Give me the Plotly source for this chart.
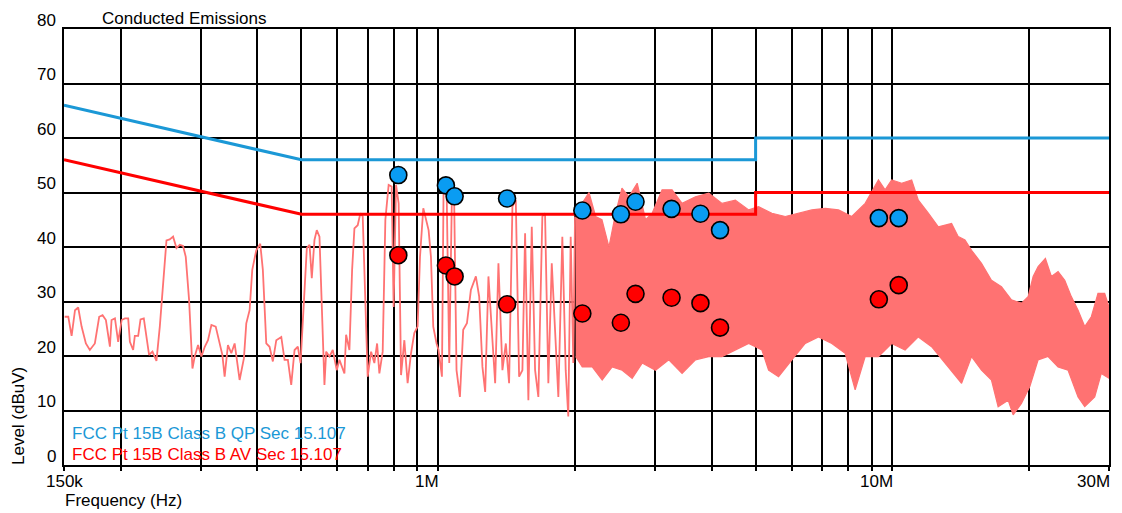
import numpy as np
import plotly.graph_objects as go

# ---------------- data ----------------
# Low-frequency part of the measured spectrum (kHz, dBuV)
scan_lo_khz = [150.5, 153.3, 155.9, 158.6, 161.2, 164.0, 167.6, 171.0, 175.4, 179.3, 182.4, 185.5,
               189.3, 190.9, 194.2, 197.4, 200.9, 204.3, 207.7, 209.5, 213.0, 214.8, 218.5, 221.1,
               224.8, 227.9, 230.9, 234.9, 239.7, 243.8, 247.9, 252.2, 256.4, 260.8, 265.3, 269.8,
               274.3, 278.1, 282.8, 287.7, 291.0, 296.0, 301.1, 306.2, 311.3, 316.7, 323.7, 330.3,
               334.8, 338.7, 344.4, 350.4, 356.3, 365.4, 373.5, 378.0, 384.4, 389.6, 397.6, 405.7,
               411.1, 418.3, 425.3, 432.5, 440.1, 451.4, 458.9, 466.7, 474.7, 482.8, 490.9, 497.7,
               505.3, 513.8, 520.9, 526.9, 534.1, 540.4, 547.8, 561.8, 566.7, 576.2, 586.0, 598.0,
               606.2, 621.7, 627.0, 637.6, 646.4, 654.0, 665.0, 674.1, 682.1, 691.4, 699.5, 711.7,
               723.6, 733.7, 742.2, 754.8, 765.1, 777.9, 789.8, 797.9, 807.7, 818.4, 828.4, 842.4,
               856.5, 871.4, 886.0, 901.0, 912.0, 927.3, 940.0, 952.6, 964.0, 975.4, 991.8, 1001.8,
               1019.3, 1027.5, 1043.3, 1057.8, 1072.3, 1084.7, 1097.5, 1116.6, 1135.3, 1157.0, 1180.3,
               1210.6, 1231.1, 1251.7, 1269.1, 1290.3, 1316.7, 1335.0, 1357.3, 1385.1, 1409.3, 1432.8,
               1457.1, 1482.2, 1507.3, 1532.8, 1553.8, 1579.8, 1607.3, 1634.6, 1661.9, 1695.9, 1719.1,
               1748.2, 1778.7, 1808.4, 1839.1, 1876.7, 1909.0, 1934.2, 1958.0, 1983.9, 2001.3]
scan_lo_db = [27.2, 27.2, 23.7, 28.4, 28.9, 25.4, 22.3, 21.1, 22.3, 27.2, 27.5, 26.6,
              21.7, 26.6, 26.9, 22.6, 26.6, 26.9, 26.9, 22.6, 21.1, 23.7, 23.7, 26.7,
              26.9, 23.5, 20.2, 20.8, 19.1, 25.4, 32.7, 41.2, 41.4, 41.9, 39.8, 40.4,
              40.2, 38.2, 30.3, 17.7, 19.9, 22.0, 19.9, 21.7, 22.9, 25.7, 25.4, 22.3,
              20.2, 16.2, 22.0, 20.5, 22.3, 15.6, 19.6, 26.0, 28.4, 35.8, 39.4, 40.6,
              35.8, 22.3, 21.7, 19.0, 22.9, 23.5, 19.3, 19.3, 14.7, 21.1, 21.7, 18.7,
              28.4, 39.8, 40.4, 34.3, 41.3, 43.1, 41.9, 14.7, 20.8, 19.9, 21.1, 17.4,
              19.3, 16.8, 23.9, 21.1, 35.8, 43.4, 44.0, 46.2, 45.6, 28.4, 16.2, 20.8,
              18.7, 22.3, 16.8, 20.8, 45.0, 51.4, 51.1, 29.0, 51.4, 48.0, 16.5, 22.9,
              15.0, 20.5, 24.2, 25.4, 38.2, 47.1, 45.0, 43.1, 38.2, 25.4, 22.3, 21.1,
              16.2, 49.9, 51.7, 18.7, 49.9, 48.0, 17.4, 12.5, 24.8, 26.0, 32.1,
              34.6, 30.9, 18.0, 13.4, 34.6, 22.9, 15.0, 37.0, 17.4, 22.3, 15.0,
              47.4, 48.6, 16.2, 17.4, 42.5, 11.9, 43.7, 17.4, 12.5, 45.6, 46.2,
              15.0, 37.0, 26.0, 12.5, 41.9, 17.4, 8.9, 41.9, 18.7, 45.6]

# Dense part of the spectrum (2 MHz - 30 MHz): upper and lower envelopes (kHz, dBuV)
band_up_khz = [2008, 2073, 2148, 2222, 2294, 2377, 2459, 2539, 2630, 2743, 2862, 2959, 3112,
               3274, 3444, 3686, 3943, 4217, 4512, 4828, 5077, 5430, 5812, 6219, 6650, 7117,
               7612, 8141, 8714, 9321, 9641, 9968, 10486, 11030, 11410, 12003, 12627, 13505,
               13970, 14454, 14945, 15716, 16532, 17391, 18295, 19245, 19909, 20420, 20943,
               21730, 22400, 23174, 23970, 24784, 25645, 26527, 27428, 28371, 29347, 30000]
band_up_db = [45.0, 48.0, 50.0, 45.6, 45.0, 40.0, 46.2, 50.8, 49.2, 51.7, 45.0, 46.2, 50.5,
              50.5, 48.0, 49.2, 49.9, 48.0, 48.6, 46.8, 47.4, 46.2, 45.6, 46.2, 46.8, 47.1,
              46.8, 45.6, 48.0, 52.3, 50.5, 52.3, 51.7, 52.3, 48.6, 46.2, 43.7, 44.3,
              41.9, 41.3, 39.4, 37.0, 33.9, 32.7, 30.3, 29.7, 30.9, 34.6, 36.4,
              37.9, 34.6, 35.5, 33.9, 30.9, 28.4, 25.4, 27.2, 31.5, 31.5, 29.0]
band_lo_khz = [2008, 2076, 2184, 2297, 2416, 2542, 2674, 2813, 3010, 3220, 3444, 3686, 3943,
               4217, 4512, 4828, 5162, 5340, 5617, 6010, 6431, 6878, 7358, 7873, 8283, 8714,
               9321, 9968, 10669, 11410, 12204, 13062, 14207, 14945, 15716, 16532, 17101,
               17990, 18452, 19245, 20079, 20943, 22029, 23174, 24378, 25645, 26527, 27904,
               28852, 30000]
band_lo_db = [19.9, 18.0, 18.0, 15.6, 18.0, 17.4, 15.9, 18.7, 17.4, 19.3, 16.8, 19.3, 19.9,
              19.9, 21.1, 22.3, 21.1, 17.4, 16.2, 19.3, 22.3, 23.5, 22.3, 20.5, 13.8, 19.9,
              19.9, 22.3, 21.1, 23.5, 21.7, 18.7, 15.0, 19.9, 17.4, 15.6, 10.7,
              11.9, 9.2, 11.3, 14.4, 19.3, 19.9, 18.0, 17.4, 12.5, 10.7, 12.5,
              16.8, 15.9]

# Limit lines (kHz, dBuV)
qp_limit_khz = [150, 500, 5000, 5000, 30000]
qp_limit_db = [66, 56, 56, 60, 60]
av_limit_khz = [150, 500, 5000, 5000, 30000]
av_limit_db = [56, 46, 46, 50, 50]

# Final measurement points (kHz, dBuV)
peak_khz = [817, 1040, 1087, 1418, 2077, 2525, 2720, 3265, 3780, 4175, 9340, 10330]
qp_db = [53.2, 51.3, 49.3, 48.9, 46.7, 46.0, 48.3, 47.0, 46.1, 43.1, 45.3, 45.3]
av_peak_khz = [817, 1040, 1087, 1418, 2077, 2525, 2720, 3265, 3780, 4175, 9340, 10330]
av_db = [38.5, 36.6, 34.6, 29.5, 27.8, 26.1, 31.4, 30.7, 29.7, 25.2, 30.4, 33.0]

y_ticks = [0, 10, 20, 30, 40, 50, 60, 70, 80]
x_grid_hz = [150e3, 200e3, 300e3, 400e3, 500e3, 600e3, 700e3, 800e3, 900e3,
             1e6, 2e6, 3e6, 4e6, 5e6, 6e6, 7e6, 8e6, 9e6, 10e6, 20e6, 30e6]
x_labels = [(150e3, "150k"), (1e6, "1M"), (10e6, "10M"), (30e6, "30M")]

# ---------------- styling ----------------
FONT = "Liberation Sans, Arial, sans-serif"
TRACE_C = "#ff7272"
QP_C = "#1b98d6"
AV_C = "#ff0000"
MK_BLUE = "#0a9cf2"
MK_RED = "#ff0000"

k = 1000.0
fig = go.Figure()

# dense band as filled polygon
band_x = np.concatenate([np.array(band_up_khz), np.array(band_lo_khz)[::-1]]) * k
band_y = np.concatenate([np.array(band_up_db), np.array(band_lo_db)[::-1]])
fig.add_trace(go.Scatter(x=band_x, y=band_y, mode="lines", fill="toself",
                         fillcolor=TRACE_C, line=dict(color=TRACE_C, width=1.2),
                         hoverinfo="skip", showlegend=False))
# low-frequency scan line
fig.add_trace(go.Scatter(x=np.array(scan_lo_khz) * k, y=scan_lo_db, mode="lines",
                         line=dict(color=TRACE_C, width=1.8), showlegend=False))
# limits
fig.add_trace(go.Scatter(x=np.array(qp_limit_khz) * k, y=qp_limit_db, mode="lines",
                         line=dict(color=QP_C, width=3), showlegend=False))
fig.add_trace(go.Scatter(x=np.array(av_limit_khz) * k, y=av_limit_db, mode="lines",
                         line=dict(color=AV_C, width=3), showlegend=False))
# markers
fig.add_trace(go.Scatter(x=np.array(peak_khz) * k, y=qp_db, mode="markers",
                         marker=dict(size=17, color=MK_BLUE, line=dict(color="black", width=1.6)),
                         showlegend=False))
fig.add_trace(go.Scatter(x=np.array(av_peak_khz) * k, y=av_db, mode="markers",
                         marker=dict(size=17, color=MK_RED, line=dict(color="black", width=1.6)),
                         showlegend=False))

fig.update_xaxes(type="log", range=[np.log10(150e3), np.log10(30e6)],
                 tickvals=x_grid_hz, showticklabels=False,
                 ticks="outside", ticklen=4, tickwidth=1.6, tickcolor="black",
                 showgrid=True, gridcolor="black", gridwidth=1.6,
                 showline=True, linecolor="black", linewidth=2, mirror=True,
                 zeroline=False, fixedrange=True)
fig.update_yaxes(range=[0, 80], tickvals=y_ticks, showticklabels=False,
                 showgrid=True, gridcolor="black", gridwidth=1.6,
                 showline=True, linecolor="black", linewidth=2, mirror=True,
                 zeroline=False, fixedrange=True)

ann = []
for v in y_ticks:
    ann.append(dict(xref="paper", yref="y", x=0, y=v, text=str(v), showarrow=False,
                    xanchor="right", yanchor="middle", xshift=-6, yshift=9,
                    font=dict(family=FONT, size=17, color="black")))
for hz, lab in x_labels:
    anchor = "center" if lab == "150k" else "right"
    ann.append(dict(xref="x", yref="paper", x=np.log10(hz), y=0, text=lab, showarrow=False,
                    xanchor=anchor, yanchor="middle", yshift=-16,
                    xshift=(0 if lab == "150k" else 3),
                    font=dict(family=FONT, size=17, color="black")))
ann.append(dict(xref="paper", yref="paper", x=0, y=1, text="Conducted Emissions",
                showarrow=False, xanchor="left", yanchor="middle", xshift=36, yshift=11,
                font=dict(family=FONT, size=17, color="black")))
ann.append(dict(xref="paper", yref="paper", x=0, y=0, text="Frequency (Hz)",
                showarrow=False, xanchor="left", yanchor="middle", xshift=-1, yshift=-35,
                font=dict(family=FONT, size=17, color="black")))
ann.append(dict(xref="paper", yref="paper", x=0, y=0, text="Level (dBuV)", textangle=-90,
                showarrow=False, xanchor="center", yanchor="bottom", xshift=-46, yshift=-2,
                font=dict(family=FONT, size=17, color="black")))
ann.append(dict(xref="paper", yref="paper", x=0, y=0, text="FCC Pt 15B Class B QP Sec 15.107",
                showarrow=False, xanchor="left", yanchor="middle", xshift=6, yshift=32,
                font=dict(family=FONT, size=17, color=QP_C)))
ann.append(dict(xref="paper", yref="paper", x=0, y=0, text="FCC Pt 15B Class B AV Sec 15.107",
                showarrow=False, xanchor="left", yanchor="middle", xshift=6, yshift=11,
                font=dict(family=FONT, size=17, color=AV_C)))

fig.update_layout(width=1122, height=513, autosize=False,
                  margin=dict(l=64, r=11, t=29, b=48),
                  paper_bgcolor="white", plot_bgcolor="white",
                  font=dict(family=FONT, size=17, color="black"),
                  annotations=ann, showlegend=False)

fig.write_html("out.html")
